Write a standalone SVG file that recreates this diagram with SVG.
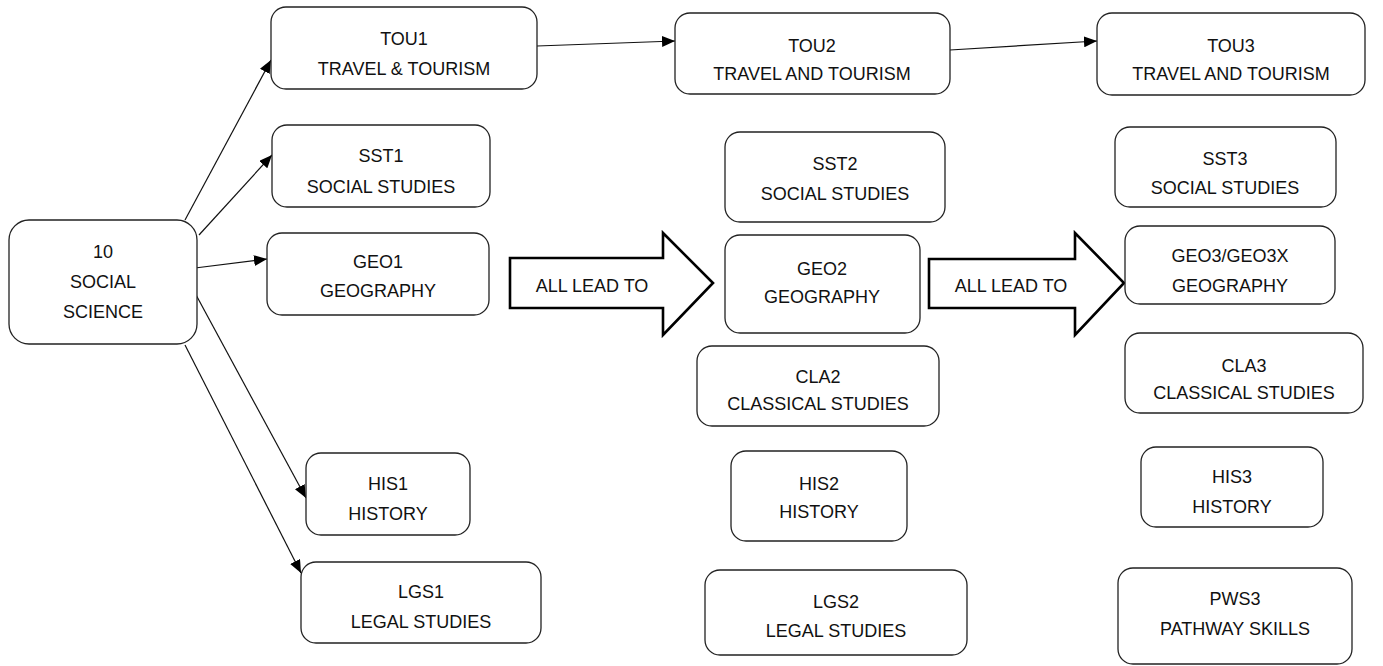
<svg xmlns="http://www.w3.org/2000/svg" width="1383" height="666" viewBox="0 0 1383 666">
<style>
.box{fill:#fff;stroke:#222;stroke-width:1.3}
.blk{fill:#fff;stroke:#000;stroke-width:2.6;stroke-linejoin:miter}
text{font-family:"Liberation Sans",Arial,sans-serif;font-size:18px;fill:#111;text-anchor:middle}
.con{stroke:#111;stroke-width:1.2;fill:none;marker-end:url(#ah)}
</style>
<defs>
<marker id="ah" markerUnits="userSpaceOnUse" markerWidth="13" markerHeight="11" refX="13" refY="5.5" orient="auto">
<path d="M0,0 L13,5.5 L0,11 z" fill="#000"/>
</marker>
</defs>
<rect width="1383" height="666" fill="#fff"/>
<g id="connectors">
<line class="con" x1="185" y1="220" x2="271" y2="60"/>
<line class="con" x1="199" y1="235" x2="272" y2="155"/>
<line class="con" x1="195" y1="268" x2="267" y2="259"/>
<line class="con" x1="195" y1="293" x2="306" y2="498"/>
<line class="con" x1="185" y1="345" x2="301" y2="573"/>
<line class="con" x1="537" y1="46" x2="675" y2="41"/>
<line class="con" x1="950" y1="50" x2="1097" y2="41"/>
</g>
<g id="lead1">
<polygon class="blk" points="510,258 663,258 663,233 713,283 663,335 663,308 510,308"/>
<text x="592" y="292">ALL LEAD TO</text>
</g>
<g id="lead2">
<polygon class="blk" points="929,259 1075,259 1075,233 1124,283 1075,335 1075,308 929,308"/>
<text x="1011" y="292">ALL LEAD TO</text>
</g>
<g id="n10">
<rect class="box" x="9" y="220" width="188" height="124" rx="20"/>
<text x="103" y="258">10</text><text x="103" y="288">SOCIAL</text><text x="103" y="318">SCIENCE</text>
</g>
<g id="tou1">
<rect class="box" x="271" y="7" width="266" height="82" rx="15"/>
<text x="404" y="45">TOU1</text><text x="404" y="75">TRAVEL &amp; TOURISM</text>
</g>
<g id="sst1">
<rect class="box" x="272" y="125" width="218" height="82" rx="15"/>
<text x="381" y="162">SST1</text><text x="381" y="193">SOCIAL STUDIES</text>
</g>
<g id="geo1">
<rect class="box" x="267" y="233" width="222" height="82" rx="15"/>
<text x="378" y="268">GEO1</text><text x="378" y="297">GEOGRAPHY</text>
</g>
<g id="his1">
<rect class="box" x="306" y="453" width="164" height="82" rx="15"/>
<text x="388" y="490">HIS1</text><text x="388" y="520">HISTORY</text>
</g>
<g id="lgs1">
<rect class="box" x="301" y="562" width="240" height="81" rx="15"/>
<text x="421" y="598">LGS1</text><text x="421" y="628">LEGAL STUDIES</text>
</g>
<g id="tou2">
<rect class="box" x="675" y="13" width="275" height="81" rx="15"/>
<text x="812" y="52">TOU2</text><text x="812" y="80">TRAVEL AND TOURISM</text>
</g>
<g id="sst2">
<rect class="box" x="725" y="132" width="220" height="90" rx="15"/>
<text x="835" y="170">SST2</text><text x="835" y="200">SOCIAL STUDIES</text>
</g>
<g id="geo2">
<rect class="box" x="725" y="235" width="195" height="98" rx="15"/>
<text x="822" y="275">GEO2</text><text x="822" y="303">GEOGRAPHY</text>
</g>
<g id="cla2">
<rect class="box" x="697" y="346" width="242" height="80" rx="15"/>
<text x="818" y="383">CLA2</text><text x="818" y="410">CLASSICAL STUDIES</text>
</g>
<g id="his2">
<rect class="box" x="731" y="451" width="176" height="90" rx="15"/>
<text x="819" y="490">HIS2</text><text x="819" y="518">HISTORY</text>
</g>
<g id="lgs2">
<rect class="box" x="705" y="570" width="262" height="85" rx="15"/>
<text x="836" y="608">LGS2</text><text x="836" y="637">LEGAL STUDIES</text>
</g>
<g id="tou3">
<rect class="box" x="1097" y="13" width="268" height="82" rx="15"/>
<text x="1231" y="52">TOU3</text><text x="1231" y="80">TRAVEL AND TOURISM</text>
</g>
<g id="sst3">
<rect class="box" x="1115" y="127" width="221" height="80" rx="15"/>
<text x="1225" y="165">SST3</text><text x="1225" y="194">SOCIAL STUDIES</text>
</g>
<g id="geo3">
<rect class="box" x="1125" y="226" width="210" height="78" rx="15"/>
<text x="1230" y="262">GEO3/GEO3X</text><text x="1230" y="292">GEOGRAPHY</text>
</g>
<g id="cla3">
<rect class="box" x="1125" y="333" width="238" height="80" rx="15"/>
<text x="1244" y="372">CLA3</text><text x="1244" y="399">CLASSICAL STUDIES</text>
</g>
<g id="his3">
<rect class="box" x="1141" y="447" width="182" height="80" rx="15"/>
<text x="1232" y="483">HIS3</text><text x="1232" y="513">HISTORY</text>
</g>
<g id="pws3">
<rect class="box" x="1118" y="568" width="234" height="96" rx="15"/>
<text x="1235" y="605">PWS3</text><text x="1235" y="635">PATHWAY SKILLS</text>
</g>
</svg>
